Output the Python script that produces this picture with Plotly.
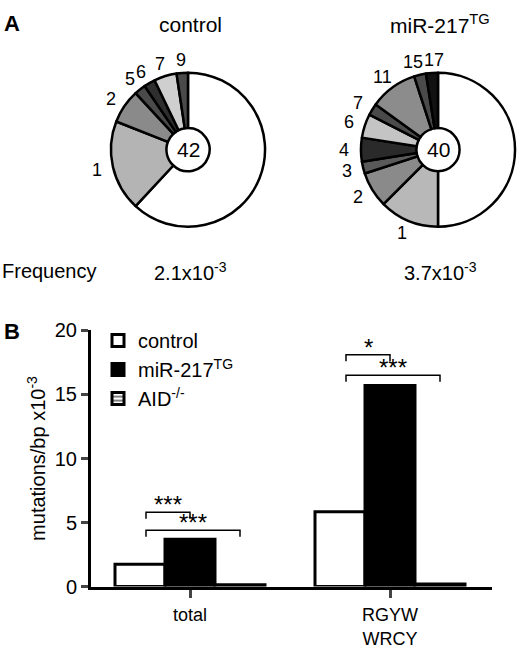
import math
import plotly.graph_objects as go

W, H = 520, 649
FONT = "Liberation Sans"

# panel A: sequences grouped by number of mutations (clockwise from 12 o'clock)
ctrl_labels = ["0", "1", "2", "5", "6", "7", "9"]
ctrl_counts = [26, 8, 3, 1, 1, 2, 1]
ctrl_colors = ["#ffffff", "#b4b4b4", "#8a8a8a", "#4a4a4a", "#2e2e2e", "#cfcfcf", "#4a4a4a"]
ctrl_total = 42
ctrl_freq = "2.1x10<sup>-3</sup>"

mir_labels = ["0", "1", "2", "3", "4", "6", "7", "11", "15", "17"]
mir_counts = [20, 5, 3, 1, 2, 2, 1, 4, 1, 1]
mir_colors = ["#ffffff", "#b8b8b8", "#8a8a8a", "#5a5a5a", "#2a2a2a", "#c4c4c4",
              "#4a4a4a", "#8c8c8c", "#4a4a4a", "#111111"]
mir_total = 40
mir_freq = "3.7x10<sup>-3</sup>"

# panel B
categories = ["total", "RGYW<br>WRCY"]
control_vals = [1.75, 5.85]
mir_vals = [3.7, 15.7]
aid_vals = [0.15, 0.2]
# (category, series a, series b, level, label)
brackets = [(0, 0, 1, 5.8, "***"), (0, 0, 2, 4.4, "***"),
            (1, 0, 1, 18.1, "*"), (1, 0, 2, 16.5, "***")]

fig = go.Figure()
annots = []


def note(x, y, text, size, **kw):
    d = dict(x=x, y=y, xref="paper", yref="paper", text=text, showarrow=False,
             xanchor="center", yanchor="middle", font=dict(size=size))
    d.update(kw)
    annots.append(d)


R = 80
LAB = 18
pies = [
    (188, 144, ctrl_labels, ctrl_counts, ctrl_colors, ctrl_total, "control", ctrl_freq),
    (438, 144, mir_labels, mir_counts, mir_colors, mir_total, "miR-217<sup>TG</sup>", mir_freq),
]
for cx, cy, labels, counts, colors, total, title, freq in pies:
    fig.add_trace(go.Pie(
        labels=labels, values=counts, sort=False, direction="clockwise", rotation=0,
        hole=0.28, textinfo="none", hoverinfo="label+value", showlegend=False,
        marker=dict(colors=colors, line=dict(color="black", width=2.5)),
        domain=dict(x=[(cx - R) / W, (cx + R) / W], y=[1 - (cy + R) / H, 1 - (cy - R) / H]),
    ))
    # slice labels outside, skip the unmutated slice
    s = sum(counts)
    cum = 0
    pos = []
    for lab, c in zip(labels, counts):
        mid = (cum + c / 2) / s * 2 * math.pi
        cum += c
        if lab == "0":
            continue
        r = R * 1.17
        pos.append([lab, cx + r * math.sin(mid), cy - r * math.cos(mid)])
    # spread neighbouring labels that would collide on the same line
    for p, q in zip(pos, pos[1:]):
        need = (len(p[0]) + len(q[0])) * LAB * 0.28 + 1
        if abs(p[2] - q[2]) < LAB * 0.8 and abs(q[1] - p[1]) < need:
            d = (need - abs(q[1] - p[1])) / 2
            p[1] -= d
            q[1] += d
    for lab, px_, py_ in pos:
        note(px_ / W, 1 - py_ / H, lab, LAB)
    note(cx / W, 1 - cy / H, str(total), 21)
    note((cx + 2) / W, 1 - 14 / H, title, 21)
    note((cx + 2) / W, 1 - 270 / H, freq, 20)

note(0, 1 - 270 / H, "Frequency", 20, xanchor="left")
note(2 / W, 1 - 13 / H, "<b>A</b>", 22, xanchor="left")
note(2 / W, 1 - 333 / H, "<b>B</b>", 22, xanchor="left")

xs = list(range(len(categories)))
bar_line = dict(color="black", width=3)
fig.add_trace(go.Bar(x=xs, y=control_vals, name="control",
                     marker=dict(color="white", line=bar_line)))
fig.add_trace(go.Bar(x=xs, y=mir_vals, name="miR-217<sup>TG</sup>",
                     marker=dict(color="black", line=bar_line)))
fig.add_trace(go.Bar(x=xs, y=aid_vals, name="AID<sup>-/-</sup>",
                     marker=dict(color="white", line=bar_line,
                                 pattern=dict(shape="-", fgcolor="black", size=5, solidity=0.5))))

bw = 0.25
shapes = []
for cat, a, b, lev, lab in brackets:
    xa = cat + (a - 1) * bw + 0.03
    xb = cat + (b - 1) * bw
    tick = 0.5
    shapes.append(dict(type="path", xref="x", yref="y",
                       path=f"M {xa},{lev - tick} L {xa},{lev} L {xb},{lev} L {xb},{lev - tick}",
                       line=dict(color="black", width=1.5)))
    annots.append(dict(x=(xa + xb) / 2, y=lev, xref="x", yref="y", text=lab,
                       showarrow=False, xanchor="center", yanchor="bottom", yshift=-8,
                       font=dict(size=24)))

fig.update_layout(
    width=W, height=H, margin=dict(l=0, r=0, t=0, b=0),
    paper_bgcolor="white", plot_bgcolor="white",
    font=dict(family=FONT, size=20, color="black"),
    barmode="group", bargap=0.25, bargroupgap=0,
    xaxis=dict(domain=[91 / W, 492 / W], range=[-0.495, 1.51], tickvals=xs, ticktext=categories,
               showline=True, linecolor="black", linewidth=3, ticks="outside", ticklen=8,
               tickwidth=2.5, showgrid=False, zeroline=False, tickfont=dict(size=18),
               ticklabelstandoff=2),
    yaxis=dict(domain=[1 - 597.7 / H, 1 - 331.7 / H], range=[0, 20], tickvals=[0, 5, 10, 15, 20],
               showline=True, linecolor="black", linewidth=3, ticks="outside", ticklen=7,
               tickwidth=3, showgrid=False, zeroline=False, tickfont=dict(size=20),
               title=dict(text="mutations/bp x10<sup>-3</sup>", font=dict(size=20), standoff=4)),
    legend=dict(x=98 / W, y=1 - 322 / H, xanchor="left", yanchor="top",
                font=dict(size=20), bgcolor="rgba(0,0,0,0)", tracegroupgap=0),
    shapes=shapes, annotations=annots,
)

# page margin off so the 520x649 figure sits flush in the window
fig.write_html("out.html", config={"displayModeBar": False},
               post_script="document.body.style.margin='0';")
